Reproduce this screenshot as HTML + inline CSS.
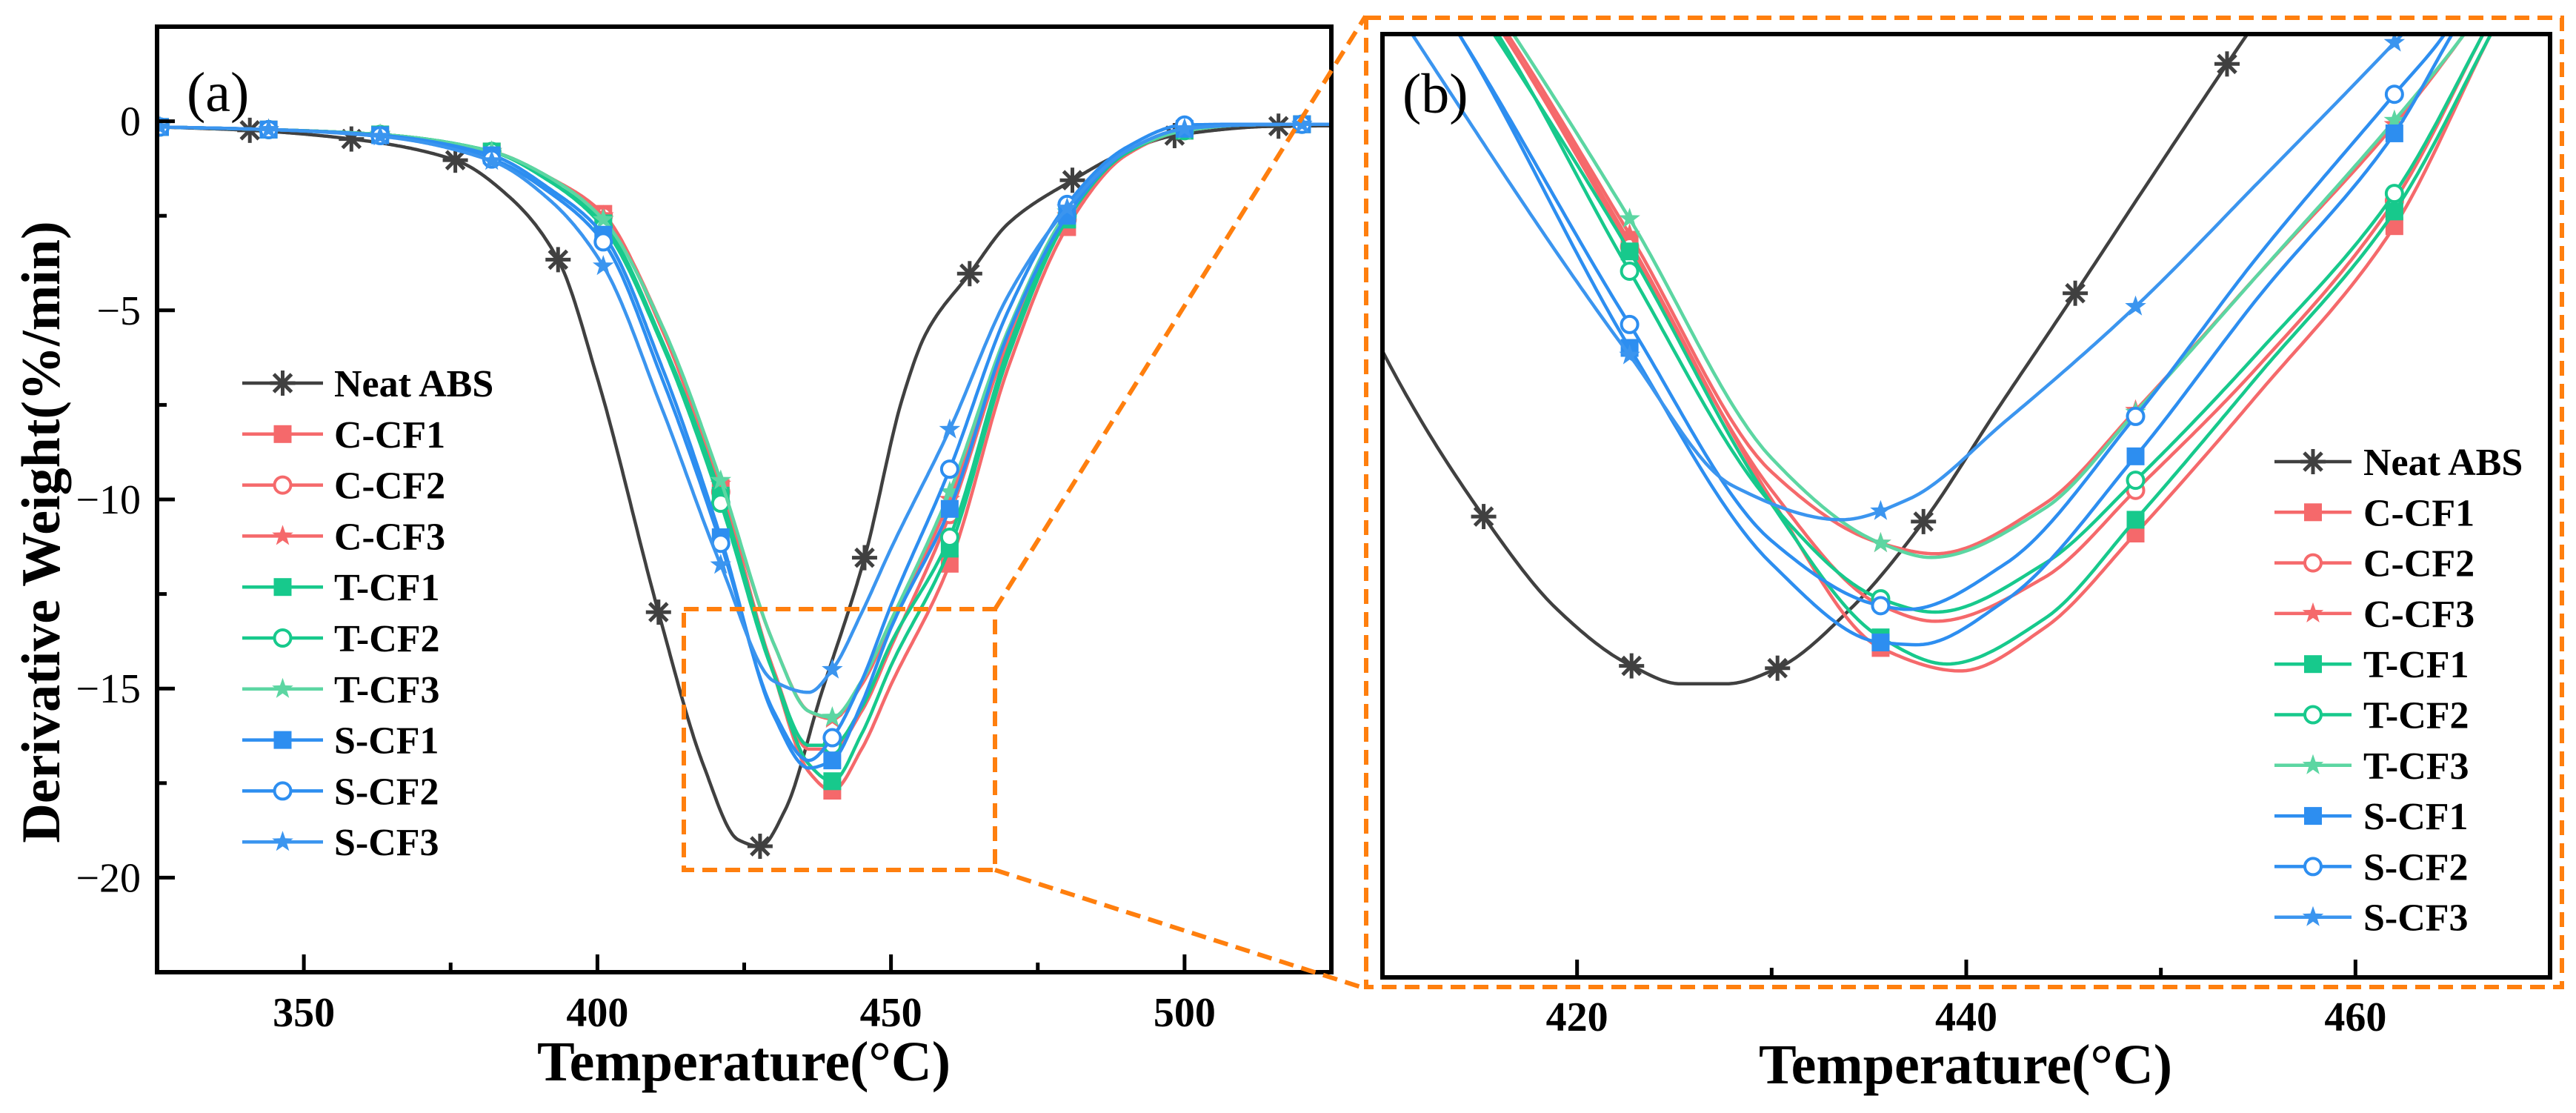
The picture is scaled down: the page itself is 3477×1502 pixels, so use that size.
<!DOCTYPE html>
<html><head><meta charset="utf-8"><style>
html,body{margin:0;padding:0;background:#fff}
svg{display:block}
text{font-family:"Liberation Serif","Times New Roman",serif}
</style></head><body>
<svg id="fig" width="3477" height="1502" viewBox="0 0 3477 1502" xmlns="http://www.w3.org/2000/svg">
<defs>
<clipPath id="clipA"><rect x="212" y="36" width="1585" height="1276"/></clipPath>
<clipPath id="clipB"><rect x="1866" y="46" width="1576" height="1273"/></clipPath>
</defs>
<rect x="0" y="0" width="3477" height="1502" fill="#fff"/>
<g id="plotA"></g>
<g id="plotB"></g>
<g id="zoom">
<rect x="923" y="822" width="420" height="352" fill="none" stroke="#ff7f0e" stroke-width="6" stroke-dasharray="20,11"/>
<rect x="1844" y="24" width="1614" height="1308" fill="none" stroke="#ff7f0e" stroke-width="6" stroke-dasharray="20,11"/>
<line x1="1343" y1="822" x2="1843" y2="22" stroke="#ff7f0e" stroke-width="6" stroke-dasharray="20,11"/>
<line x1="1343" y1="1174" x2="1843" y2="1334" stroke="#ff7f0e" stroke-width="6" stroke-dasharray="20,11"/>
</g>
<text x="252" y="150" font-size="76">(a)</text>
<text x="1893" y="152" font-size="76">(b)</text>
<text x="1004" y="1458" font-size="76" font-weight="bold" text-anchor="middle">Temperature(°C)</text>
<text x="2653" y="1462" font-size="76" font-weight="bold" text-anchor="middle">Temperature(°C)</text>
<text transform="translate(80,718) rotate(-90)" font-size="74" font-weight="bold" text-anchor="middle">Derivative Weight(%/min)</text>
</svg>
<script>
// ---------- Panel (a) data ----------
const aTempsCF = [325,344,363,382,392,401,411,421,430,436,440,445,450,460,470,480,490,500,510,520,525];
const aNeatTemps = [325,340.8,358.1,375.8,385,393.3,400,410.4,418,424,427.7,432,438,445.5,452,456,463.4,470,480.9,490,498.3,516,525];
const aNeat = [-0.15,-0.24,-0.47,-1.03,-2.0,-3.66,-6.8,-12.98,-17.0,-19.0,-19.17,-18.2,-15.2,-11.54,-7.3,-5.6,-4.03,-2.7,-1.56,-0.8,-0.38,-0.13,-0.12];
const aCCF1 = [-0.15,-0.22,-0.35,-0.8,-1.5,-2.45,-5.5,-9.7,-14.6,-17.2,-17.7,-16.6,-14.9,-11.7,-6.5,-2.8,-0.9,-0.25,-0.1,-0.08,-0.08];
const aCCF2 = [-0.15,-0.22,-0.35,-0.8,-1.5,-2.5,-5.5,-9.8,-14.5,-16.6,-16.6,-15.6,-13.9,-10.4,-5.8,-2.6,-0.85,-0.25,-0.1,-0.08,-0.08];
const aCCF3 = [-0.15,-0.22,-0.35,-0.8,-1.5,-2.5,-5.4,-9.6,-13.8,-15.6,-15.8,-14.9,-13.3,-10.0,-5.6,-2.5,-0.8,-0.25,-0.1,-0.08,-0.08];
const aTCF1 = [-0.15,-0.22,-0.35,-0.8,-1.6,-2.7,-5.8,-9.9,-14.6,-17.0,-17.45,-16.2,-14.4,-11.3,-6.2,-2.6,-0.85,-0.25,-0.1,-0.08,-0.08];
const aTCF2 = [-0.15,-0.22,-0.35,-0.8,-1.6,-2.8,-5.9,-10.1,-14.6,-16.5,-16.5,-15.5,-13.8,-11.0,-6.0,-2.5,-0.85,-0.25,-0.1,-0.08,-0.08];
const aTCF3 = [-0.15,-0.22,-0.35,-0.8,-1.5,-2.6,-5.4,-9.5,-13.8,-15.6,-15.76,-14.8,-13.2,-9.8,-5.5,-2.4,-0.8,-0.25,-0.1,-0.08,-0.08];
const aSCF1 = [-0.15,-0.22,-0.37,-0.9,-1.8,-3.0,-6.5,-11.0,-15.7,-17.1,-16.9,-15.4,-13.4,-10.25,-5.6,-2.5,-0.8,-0.2,-0.1,-0.08,-0.08];
const aSCF2 = [-0.15,-0.22,-0.38,-1.0,-1.9,-3.19,-6.8,-11.16,-15.6,-16.9,-16.3,-14.8,-12.8,-9.2,-5.0,-2.2,-0.7,-0.1,-0.08,-0.08,-0.08];
const aSCF3 = [-0.15,-0.22,-0.4,-1.05,-2.1,-3.83,-7.6,-11.73,-14.8,-15.1,-14.5,-13.0,-11.3,-8.15,-4.6,-2.3,-0.8,-0.2,-0.1,-0.08,-0.08];
const aMarkersCF = [325.5,344,363,382,401,421,440,460,480,500,520];
const aMarkersNeat = [340.8,358.1,375.8,393.3,410.4,427.7,445.5,463.4,480.9,498.3,516];
const aXTicks = [350,400,450,500];
const aXMinor = [375,425,475];
const aYTicks = [0,-5,-10,-15,-20];
const aYTickLabels = ["0","\u22125","\u221210","\u221215","\u221220"];
const aYMinor = [-2.5,-7.5,-12.5,-17.5];

// ---------- Panel (b) data ----------
const bNeatT = [405,410,415.2,419,422.8,425.3,427.7,430.3,434,437.8,441.5,445.6,449.5,453.4,457];
const bNeat = [-7,-11.97,-15.57,-17.6,-18.82,-19.21,-19.21,-18.87,-17.6,-15.68,-13.3,-10.71,-8.2,-5.72,-3.5];
const bCCF1T = [408,416.3,422.7,430,435.6,439.7,444,448.7,455,462,466.9,472];
const bCCF1 = [-0.1,-5.12,-9.6,-15.2,-18.43,-18.93,-18.0,-15.94,-12.9,-9.25,-5.12,-1.0];
const bTCF1T = [408,415.8,422.7,430,435.6,439,444,448.7,455,462,466.9,472];
const bTCF1 = [-0.3,-5.12,-9.8,-15.3,-18.2,-18.78,-17.8,-15.64,-12.5,-8.93,-5.12,-1.0];
const bCCF2T = [408,416.3,422.7,430,435.6,438.4,444,448.7,455,462,466.5,472];
const bCCF2 = [-0.1,-5.12,-9.7,-15.0,-17.5,-17.85,-16.9,-15.0,-12.3,-8.7,-5.12,-0.6];
const bTCF2T = [408,416,422.7,430,435.6,438.4,444,448.7,455,462,466.5,472];
const bTCF2 = [-0.2,-5.12,-10.23,-15.3,-17.36,-17.65,-16.6,-14.78,-12.0,-8.54,-5.12,-0.6];
const bCCF3T = [408,416.5,422.7,430,435.6,438.4,444,448.7,455,462,465.5,470];
const bCCF3 = [0,-5.12,-9.43,-14.6,-16.15,-16.38,-15.3,-13.26,-10.3,-7.04,-5.12,-2.3];
const bTCF3T = [408,416.8,422.7,430,435.6,438.2,444,448.7,455,462,465.5,470];
const bTCF3 = [0.3,-5.12,-9.09,-14.3,-16.15,-16.46,-15.4,-13.3,-10.3,-6.95,-5.12,-2.3];
const bSCF1T = [406,414,422.7,430,435.6,437.5,442,448.7,455,462,464.9,470];
const bSCF1 = [0,-5.12,-11.9,-16.6,-18.31,-18.36,-17.4,-14.26,-10.8,-7.23,-5.12,-1.5];
const bSCF2T = [406,414,422.7,430,435.6,437,442,448.7,455,462,464.5,470];
const bSCF2 = [0,-5.12,-11.39,-16.1,-17.51,-17.59,-16.6,-13.39,-9.9,-6.38,-5.12,-1.0];
const bSCF3T = [404,411.6,422.7,428,433.6,437,442,448.7,455,462.3,468];
const bSCF3 = [0,-5.12,-12.06,-14.9,-15.64,-15.2,-13.5,-11.0,-8.3,-5.12,-2.5];
const bMarkersCF = [422.7,435.6,448.7,462];
const bMarkersNeat = [415.2,422.8,430.3,437.8,445.6,453.4];
const bXTicks = [420,440,460];
const bXMinor = [430,450];

const seriesNames = ["Neat ABS","C-CF1","C-CF2","C-CF3","T-CF1","T-CF2","T-CF3","S-CF1","S-CF2","S-CF3"];

// ---------- styles ----------
const STY = [
 {c:"#404040",m:"ast"},{c:"#f5696b",m:"sq"},{c:"#f5696b",m:"ci"},{c:"#f5696b",m:"st"},
 {c:"#17c98c",m:"sq"},{c:"#17c98c",m:"ci"},{c:"#5cd6a2",m:"st"},
 {c:"#2d8ef0",m:"sq"},{c:"#2d8ef0",m:"ci"},{c:"#3b95ef",m:"st"}
];

// ---------- axes ----------
const A = {x0:212,x1:1797,y0:36,y1:1312,tmin:325,tmax:525,vmin:-22.5,vmax:2.5};
const B = {x0:1866,x1:3442,y0:46,y1:1319,tmin:410,tmax:470,vmin:-25.6,vmax:-5.07};
function xS(ax,t){return ax.x0+(t-ax.tmin)*(ax.x1-ax.x0)/(ax.tmax-ax.tmin);}
function yS(ax,v){return ax.y0+(ax.vmax-v)*(ax.y1-ax.y0)/(ax.vmax-ax.vmin);}

const NS="http://www.w3.org/2000/svg";
function mk(tag,attrs,parent){const e=document.createElementNS(NS,tag);for(const k in attrs)e.setAttribute(k,attrs[k]);parent.appendChild(e);return e;}

function interp(T,V,t){
 const n=T.length;
 if(t<=T[0])return V[0]; if(t>=T[n-1])return V[n-1];
 const d=[],m=[];
 for(let i=0;i<n-1;i++)d.push((V[i+1]-V[i])/(T[i+1]-T[i]));
 m[0]=d[0];m[n-1]=d[n-2];
 for(let i=1;i<n-1;i++){ if(d[i-1]*d[i]<=0)m[i]=0; else {const w1=2*(T[i+1]-T[i])+(T[i]-T[i-1]),w2=(T[i+1]-T[i])+2*(T[i]-T[i-1]);m[i]=(w1+w2)/(w1/d[i-1]+w2/d[i]);} }
 let k=0;while(t>T[k+1])k++;
 const h=T[k+1]-T[k],s=(t-T[k])/h;
 const h00=2*s*s*s-3*s*s+1,h10=s*s*s-2*s*s+s,h01=-2*s*s*s+3*s*s,h11=s*s*s-s*s;
 return h00*V[k]+h10*h*m[k]+h01*V[k+1]+h11*h*m[k+1];
}

function marker(type,x,y,c,g){
 let e;
 if(type==="sq"){e=mk("rect",{x:x-12,y:y-12,width:24,height:24,fill:c},g);}
 else if(type==="ci"){e=mk("circle",{cx:x,cy:y,r:11,fill:"#fff",stroke:c,"stroke-width":4},g);}
 else if(type==="st"){let p="";for(let i=0;i<10;i++){const r=i%2?6:15,a=-Math.PI/2+i*Math.PI/5;p+=(x+r*Math.cos(a)).toFixed(1)+","+(y+r*Math.sin(a)).toFixed(1)+" ";}e=mk("polygon",{points:p,fill:c},g);}
 else {e=mk("g",{stroke:c,"stroke-width":5},g);for(let i=0;i<4;i++){const a=i*Math.PI/4;mk("line",{x1:x-17*Math.cos(a),y1:y-17*Math.sin(a),x2:x+17*Math.cos(a),y2:y+17*Math.sin(a)},e);}}
 return e;
}

function drawSeries(ax,g,clip,T,V,marks,idx,nameKey){
 const sg=mk("g",{"clip-path":"url(#"+clip+")"},g);
 
 
 const t0=Math.max(T[0],ax.tmin-2),t1=Math.min(T[T.length-1],ax.tmax+2);
 let d="";
 for(let t=t0;t<=t1+1e-9;t+=0.2){d+=(d?"L":"M")+xS(ax,t).toFixed(1)+","+yS(ax,interp(T,V,t)).toFixed(1);}
 const p=mk("path",{d:d,fill:"none",stroke:STY[idx].c,"stroke-width":4.5,"stroke-linejoin":"round"},sg);
 
 
 marks.forEach(t=>{
  const m=marker(STY[idx].m,xS(ax,t),yS(ax,interp(T,V,t)),STY[idx].c,sg);
  
  
 });
}

function legend(g,x0,x1,tx,y0,dy,prefix){
 seriesNames.forEach((n,i)=>{
  const y=y0+i*dy;
  const lg=mk("g",{},g);
  
  
  mk("line",{x1:x0,y1:y,x2:x1,y2:y,stroke:STY[i].c,"stroke-width":4.5},lg);
  marker(STY[i].m,(x0+x1)/2,y,STY[i].c,lg);
  const t=mk("text",{x:tx,y:y+18,"font-size":52,"font-weight":"bold"},lg);
  t.textContent=n;
 });
}

// ---------- panel A ----------
const gA=document.getElementById("plotA");
const aSets=[[aNeatTemps,aNeat,aMarkersNeat],[aTempsCF,aCCF1,aMarkersCF],[aTempsCF,aCCF2,aMarkersCF],[aTempsCF,aCCF3,aMarkersCF],[aTempsCF,aTCF1,aMarkersCF],[aTempsCF,aTCF2,aMarkersCF],[aTempsCF,aTCF3,aMarkersCF],[aTempsCF,aSCF1,aMarkersCF],[aTempsCF,aSCF2,aMarkersCF],[aTempsCF,aSCF3,aMarkersCF]];
aSets.forEach((s,i)=>drawSeries(A,gA,"clipA",s[0],s[1],s[2],i,"a"));
const frameA=mk("rect",{x:A.x0,y:A.y0,width:A.x1-A.x0,height:A.y1-A.y0,fill:"none",stroke:"#000","stroke-width":6},gA);


aXTicks.forEach(t=>{const x=xS(A,t);mk("line",{x1:x,y1:A.y1,x2:x,y2:A.y1-24,stroke:"#000","stroke-width":5},gA);
 const l=mk("text",{x:x,y:1385,"font-size":56,"font-weight":"bold","text-anchor":"middle"},gA);l.textContent=t;
 
 });
aXMinor.forEach(t=>{const x=xS(A,t);mk("line",{x1:x,y1:A.y1,x2:x,y2:A.y1-13,stroke:"#000","stroke-width":5},gA);});
aYTicks.forEach((v,i)=>{const y=yS(A,v);mk("line",{x1:A.x0,y1:y,x2:A.x0+24,y2:y,stroke:"#000","stroke-width":5},gA);
 const l=mk("text",{x:190,y:y+19,"font-size":56,"text-anchor":"end"},gA);l.textContent=aYTickLabels[i];
 
 });
aYMinor.forEach(v=>{const y=yS(A,v);mk("line",{x1:A.x0,y1:y,x2:A.x0+13,y2:y,stroke:"#000","stroke-width":5},gA);});
const legA=mk("g",{},gA);


legend(legA,327,436,451,517,68.8,"a");

// ---------- panel B ----------
const gB=document.getElementById("plotB");
const bSets=[[bNeatT,bNeat,bMarkersNeat],[bCCF1T,bCCF1,bMarkersCF],[bCCF2T,bCCF2,bMarkersCF],[bCCF3T,bCCF3,bMarkersCF],[bTCF1T,bTCF1,bMarkersCF],[bTCF2T,bTCF2,bMarkersCF],[bTCF3T,bTCF3,bMarkersCF],[bSCF1T,bSCF1,bMarkersCF],[bSCF2T,bSCF2,bMarkersCF],[bSCF3T,bSCF3,bMarkersCF]];
bSets.forEach((s,i)=>drawSeries(B,gB,"clipB",s[0],s[1],s[2],i,"b"));
const frameB=mk("rect",{x:B.x0,y:B.y0,width:B.x1-B.x0,height:B.y1-B.y0,fill:"none",stroke:"#000","stroke-width":6},gB);


bXTicks.forEach(t=>{const x=xS(B,t);mk("line",{x1:x,y1:B.y1,x2:x,y2:B.y1-24,stroke:"#000","stroke-width":5},gB);
 const l=mk("text",{x:x,y:1391,"font-size":56,"font-weight":"bold","text-anchor":"middle"},gB);l.textContent=t;
 
 });
bXMinor.forEach(t=>{const x=xS(B,t);mk("line",{x1:x,y1:B.y1,x2:x,y2:B.y1-13,stroke:"#000","stroke-width":5},gB);});
const legB=mk("g",{},gB);


legend(legB,3070,3174,3190,623,68.3,"b");
</script>
</body></html>
